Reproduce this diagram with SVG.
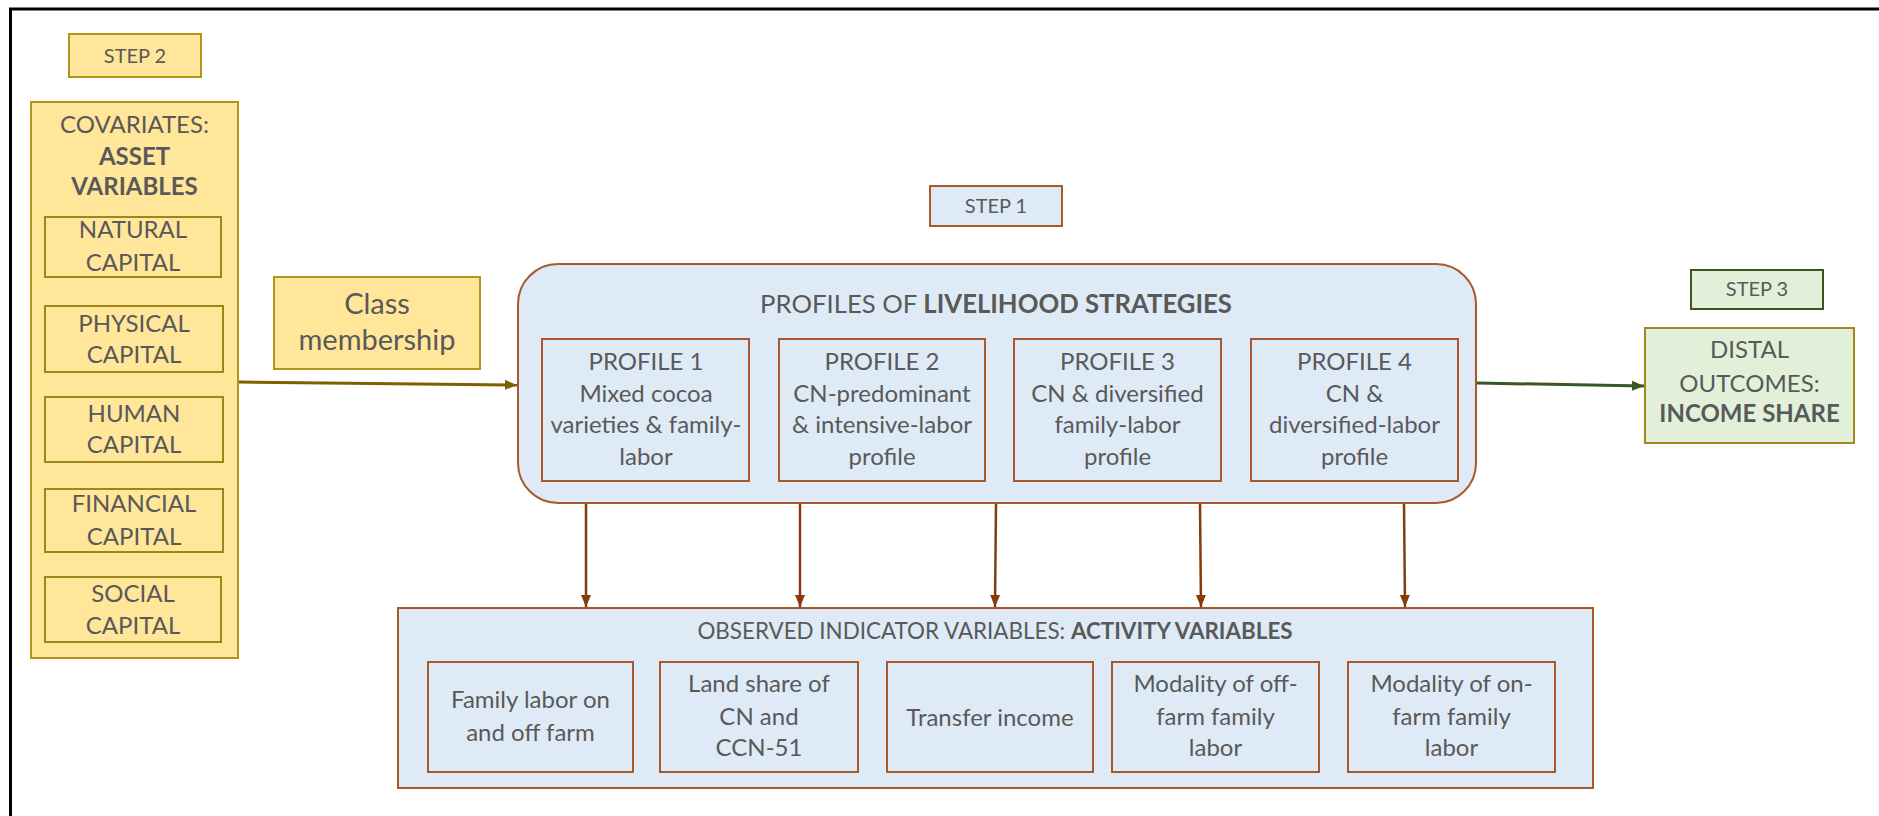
<svg xmlns="http://www.w3.org/2000/svg" width="1879" height="816" viewBox="0 0 1879 816">
<style>
text{font-family:Lato,"Liberation Sans",sans-serif;fill:#595959;text-anchor:middle;}
.t26{font-size:24px;}
.t22{font-size:20px;}
.b{font-weight:bold;}
.yel{fill:#FFE699;stroke:#B0951A;stroke-width:2;}
.yin{fill:#FFE699;stroke:#9C871C;stroke-width:2;}
.blu{fill:#DEEBF7;stroke:#A9582A;stroke-width:2;}
</style>
<defs>
<marker id="ah-olive" markerUnits="userSpaceOnUse" markerWidth="14" markerHeight="12" refX="12" refY="6" orient="auto"><path d="M0,1 L12,6 L0,11 Z" fill="#7F6000"/></marker>
<marker id="ah-green" markerUnits="userSpaceOnUse" markerWidth="14" markerHeight="12" refX="12" refY="6" orient="auto"><path d="M0,1 L12,6 L0,11 Z" fill="#385723"/></marker>
<marker id="ah-brown" markerUnits="userSpaceOnUse" markerWidth="14" markerHeight="12" refX="12" refY="6" orient="auto"><path d="M0,1 L12,6 L0,11 Z" fill="#843C0C"/></marker>
</defs>
<rect width="1879" height="816" fill="#FFFFFF"/>
<path d="M10.5 820 V9 H1885" fill="none" stroke="#000" stroke-width="3"/>

<g id="step2"><rect class="yel" x="69" y="34" width="132" height="43"/><text class="t22" x="135" y="63">STEP 2</text></g>

<g id="covariates">
<rect class="yel" x="31" y="102" width="207" height="556"/>
<text class="t26" x="134.5" y="133">COVARIATES:</text>
<text class="t26 b" x="134.5" y="165">ASSET</text>
<text class="t26 b" x="134.5" y="195">VARIABLES</text>
</g>
<g id="natural"><rect class="yin" x="45" y="217" width="176" height="60"/><text class="t26" x="133" y="238">NATURAL</text><text class="t26" x="133" y="271">CAPITAL</text></g>
<g id="physical"><rect class="yin" x="45" y="306" width="178" height="66"/><text class="t26" x="134" y="332">PHYSICAL</text><text class="t26" x="134" y="363">CAPITAL</text></g>
<g id="human"><rect class="yin" x="45" y="397" width="178" height="65"/><text class="t26" x="134" y="422">HUMAN</text><text class="t26" x="134" y="453">CAPITAL</text></g>
<g id="financial"><rect class="yin" x="45" y="489" width="178" height="63"/><text class="t26" x="134" y="512">FINANCIAL</text><text class="t26" x="134" y="545">CAPITAL</text></g>
<g id="social"><rect class="yin" x="45" y="577" width="176" height="65"/><text class="t26" x="133" y="602">SOCIAL</text><text class="t26" x="133" y="634">CAPITAL</text></g>

<g id="class-membership"><rect class="yel" x="274" y="277" width="206" height="92"/><text x="377" y="314" font-size="29">Class</text><text x="377" y="350" font-size="29">membership</text></g>

<g id="step1"><rect class="blu" x="930" y="186" width="132" height="40"/><text class="t22" x="996" y="213">STEP 1</text></g>

<g id="profiles">
<rect class="blu" x="518" y="264" width="958" height="239" rx="40" ry="40"/>
<text x="996" y="313" font-size="25.7">PROFILES OF <tspan class="b">LIVELIHOOD STRATEGIES</tspan></text>
</g>
<g id="profile1"><rect class="blu" x="542" y="339" width="207" height="142"/>
<text class="t26" x="646" y="370">PROFILE 1</text><text class="t26" x="646" y="402">Mixed cocoa</text><text class="t26" x="646" y="433">varieties &amp; family-</text><text class="t26" x="646" y="465">labor</text></g>
<g id="profile2"><rect class="blu" x="779" y="339" width="206" height="142"/>
<text class="t26" x="882" y="370">PROFILE 2</text><text class="t26" x="882" y="402">CN-predominant</text><text class="t26" x="882" y="433">&amp; intensive-labor</text><text class="t26" x="882" y="465">profile</text></g>
<g id="profile3"><rect class="blu" x="1014" y="339" width="207" height="142"/>
<text class="t26" x="1117.5" y="370">PROFILE 3</text><text class="t26" x="1117.5" y="402">CN &amp; diversified</text><text class="t26" x="1117.5" y="433">family-labor</text><text class="t26" x="1117.5" y="465">profile</text></g>
<g id="profile4"><rect class="blu" x="1251" y="339" width="207" height="142"/>
<text class="t26" x="1354.5" y="370">PROFILE 4</text><text class="t26" x="1354.5" y="402">CN &amp;</text><text class="t26" x="1354.5" y="433">diversified-labor</text><text class="t26" x="1354.5" y="465">profile</text></g>

<g id="step3"><rect fill="#E2F0D9" stroke="#385723" stroke-width="2" x="1691" y="270" width="132" height="39"/><text class="t22" x="1757" y="296">STEP 3</text></g>
<g id="distal"><rect fill="#E2F0D9" stroke="#A08A1E" stroke-width="2" x="1645" y="328" width="209" height="115"/>
<text class="t26" x="1749.5" y="358">DISTAL</text><text class="t26" x="1749.5" y="392">OUTCOMES:</text><text class="t26 b" x="1749.5" y="422">INCOME SHARE</text></g>

<g id="observed">
<rect class="blu" x="398" y="608" width="1195" height="180"/>
<text x="995" y="639" font-size="22.4">OBSERVED INDICATOR VARIABLES: <tspan class="b">ACTIVITY VARIABLES</tspan></text>
</g>
<g id="obs1"><rect class="blu" x="428" y="662" width="205" height="110"/><text class="t26" x="530.5" y="708">Family labor on</text><text class="t26" x="530.5" y="741">and off farm</text></g>
<g id="obs2"><rect class="blu" x="660" y="662" width="198" height="110"/><text class="t26" x="759" y="692">Land share of</text><text class="t26" x="759" y="725">CN and</text><text class="t26" x="759" y="756">CCN-51</text></g>
<g id="obs3"><rect class="blu" x="887" y="662" width="206" height="110"/><text class="t26" x="990" y="726">Transfer income</text></g>
<g id="obs4"><rect class="blu" x="1112" y="662" width="207" height="110"/><text class="t26" x="1215.5" y="692">Modality of off-</text><text class="t26" x="1215.5" y="725">farm family</text><text class="t26" x="1215.5" y="756">labor</text></g>
<g id="obs5"><rect class="blu" x="1348" y="662" width="207" height="110"/><text class="t26" x="1451.5" y="692">Modality of on-</text><text class="t26" x="1451.5" y="725">farm family</text><text class="t26" x="1451.5" y="756">labor</text></g>

<g id="connectors" fill="none">
<line x1="239" y1="382" x2="517" y2="385" stroke="#7F6000" stroke-width="3" marker-end="url(#ah-olive)"/>
<line x1="1477" y1="383" x2="1644" y2="386" stroke="#385723" stroke-width="3" marker-end="url(#ah-green)"/>
<line x1="586" y1="504" x2="586" y2="607" stroke="#843C0C" stroke-width="2.5" marker-end="url(#ah-brown)"/>
<line x1="800" y1="504" x2="800" y2="607" stroke="#843C0C" stroke-width="2.5" marker-end="url(#ah-brown)"/>
<line x1="996" y1="504" x2="995" y2="607" stroke="#843C0C" stroke-width="2.5" marker-end="url(#ah-brown)"/>
<line x1="1200" y1="504" x2="1201" y2="607" stroke="#843C0C" stroke-width="2.5" marker-end="url(#ah-brown)"/>
<line x1="1404" y1="504" x2="1405" y2="607" stroke="#843C0C" stroke-width="2.5" marker-end="url(#ah-brown)"/>
</g>
</svg>
